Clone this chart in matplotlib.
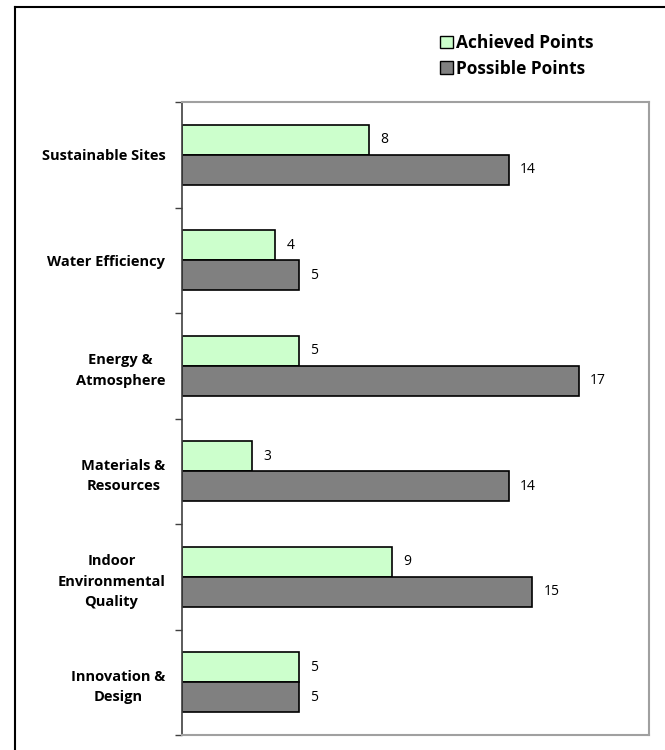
import matplotlib.pyplot as plt
from matplotlib.lines import Line2D
from matplotlib.patches import Patch
import numpy as np

categories = ['Sustainable Sites', 'Water Efficiency', 'Energy &\nAtmosphere',
              'Materials &\nResources', 'Indoor\nEnvironmental\nQuality',
              'Innovation &\nDesign']
achieved = [8, 4, 5, 3, 9, 5]
possible = [14, 5, 17, 14, 15, 5]
series_names = ['Achieved Points', 'Possible Points']

green = '#CCFFCC'
gray = '#808080'

fig = plt.figure(figsize=(6.65, 7.5), dpi=100)
ax = fig.add_axes([182 / 665, 1 - 735 / 750, 467 / 665, 633 / 750])

y = np.arange(len(categories))
h = 0.285
ax.barh(y - h / 2, achieved, height=h, color=green, edgecolor='black', linewidth=1.2)
ax.barh(y + h / 2, possible, height=h, color=gray, edgecolor='black', linewidth=1.2)

# value labels
for yi, a, p in zip(y, achieved, possible):
    ax.annotate(str(a), (a, yi - h / 2), xytext=(8, 0), textcoords='offset points',
                va='center', ha='left', fontsize=10, family='Open Sans')
    ax.annotate(str(p), (p, yi + h / 2), xytext=(8, 0), textcoords='offset points',
                va='center', ha='left', fontsize=10, family='Open Sans')

ax.set_xlim(0, 20)
ax.set_ylim(len(categories) - 0.5, -0.5)
ax.set_xticks([])

# labels at centres, tick marks at category boundaries
ax.set_yticks(y)
ax.set_yticklabels(categories, fontsize=10.5, fontweight='bold', family='Open Sans',
                   multialignment='center', linespacing=1.6)
ax.tick_params(axis='y', which='major', length=0, pad=12)
ax.set_yticks(np.arange(len(categories) + 1) - 0.5, minor=True)
ax.tick_params(axis='y', which='minor', length=5, width=1, color='#404040')

for side in ['top', 'right', 'bottom']:
    ax.spines[side].set_color('#a0a0a0')
    ax.spines[side].set_linewidth(1.5)
ax.spines['left'].set_color('#404040')
ax.spines['left'].set_linewidth(1.2)

handles = [Patch(facecolor=green, edgecolor='black'),
           Patch(facecolor=gray, edgecolor='black')]
leg = fig.legend(handles, series_names, loc='upper left',
                 bbox_to_anchor=(433 / 665, 1 - 27 / 750), frameon=False,
                 prop={'family': 'Open Sans', 'weight': 'bold', 'size': 12.5},
                 handlelength=0.75, handleheight=0.75, handletextpad=0.15,
                 labelspacing=0.45, borderaxespad=0)

# outer frame (left and top edges visible)
fig.add_artist(Line2D([15 / 665, 15 / 665], [0, 1 - 7 / 750], color='black', lw=1.5,
                      transform=fig.transFigure))
fig.add_artist(Line2D([15 / 665, 1], [1 - 7 / 750, 1 - 7 / 750], color='black', lw=1.5,
                      transform=fig.transFigure))

plt.savefig('out.png', dpi=100)
